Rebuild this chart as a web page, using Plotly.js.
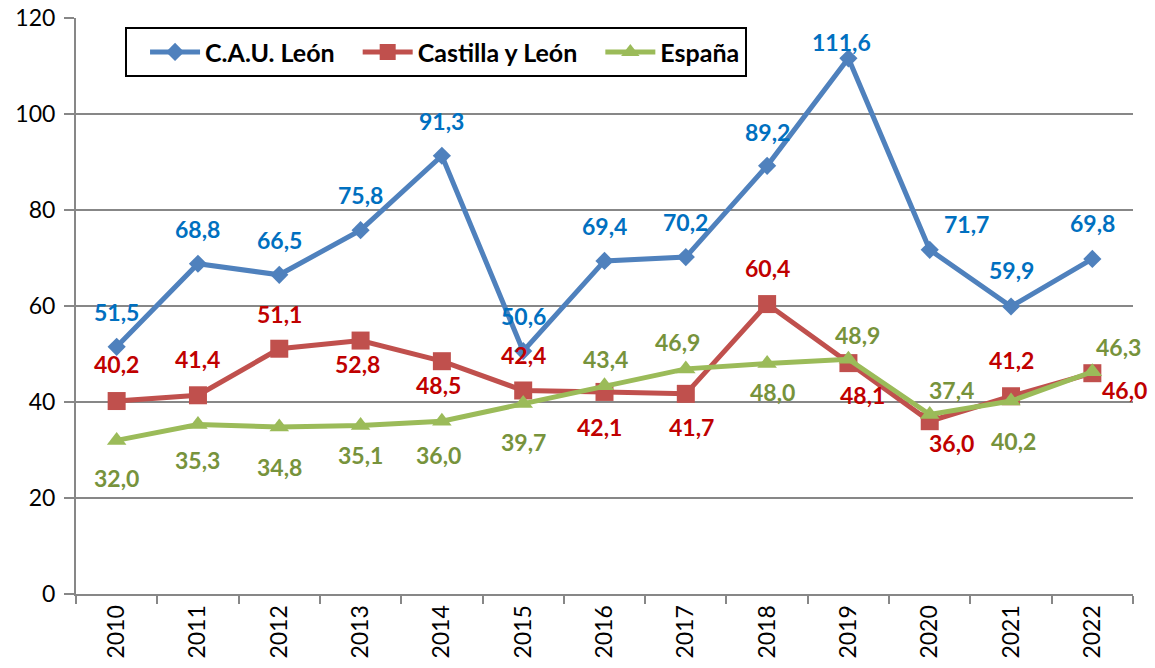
<!DOCTYPE html>
<html>
<head>
<meta charset="utf-8">
<script src="https://cdn.plot.ly/plotly-3.0.1.min.js"></script>
<style>html,body{margin:0;padding:0;background:#fff;}#chart{width:1155px;height:668px;}</style>
</head>
<body>
<div id="chart"></div>
<script>
const years = ['2010','2011','2012','2013','2014','2015','2016','2017','2018','2019','2020','2021','2022'];
const cauLeon = [51.5, 68.8, 66.5, 75.8, 91.3, 50.6, 69.4, 70.2, 89.2, 111.6, 71.7, 59.9, 69.8];
const castillaLeon = [40.2, 41.4, 51.1, 52.8, 48.5, 42.4, 42.1, 41.7, 60.4, 48.1, 36.0, 41.2, 46.0];
const espana = [32.0, 35.3, 34.8, 35.1, 36.0, 39.7, 43.4, 46.9, 48.0, 48.9, 37.4, 40.2, 46.3];
const yTicks = [0, 20, 40, 60, 80, 100, 120];

// label offsets (pixels) relative to each point
const cauDx = [0,0,0,0,0,0,0,0,0,-7,37,0,0];
const cauDy = [35,35,35,35,35,35,35,35,34,16,26,36,36];
const clDx = [0,0,0,-3,-3,0,-5,6,0,14,22,0,32];
const clDy = [37,36,35,-23,-24,35,-35,-33,36,-32,-22,36,-17];
const esDx = [0,0,0,0,-3,0,1,-8,5,9,22,2,26];
const esDy = [-38,-35,-40,-29,-34,-39,27,27,-28,24,24,-40,25];

const FONT = 'Lato, sans-serif';
const fmt = v => v.toFixed(1).replace('.', ',');

const traces = [
  {x: years, y: cauLeon, name: 'C.A.U. León', type: 'scatter', mode: 'lines+markers',
   line: {color: '#4F81BD', width: 5}, marker: {symbol: 'diamond', size: 14, color: '#4F81BD'}},
  {x: years, y: castillaLeon, name: 'Castilla y León', type: 'scatter', mode: 'lines+markers',
   line: {color: '#C0504D', width: 5}, marker: {symbol: 'square', size: 18, color: '#C0504D'}},
  {x: years, y: espana, name: 'España', type: 'scatter', mode: 'lines+markers',
   line: {color: '#9BBB59', width: 5}, marker: {symbol: 'triangle-up', size: 17, color: '#9BBB59'}}
];

const annotations = [];
function addLabels(vals, dx, dy, color) {
  for (let i = 0; i < vals.length; i++) {
    annotations.push({x: i, y: vals[i], xref: 'x', yref: 'y', text: fmt(vals[i]),
      showarrow: false, xshift: dx[i], yshift: dy[i],
      font: {family: FONT, size: 23, color: color, weight: 'bold'}});
  }
}
addLabels(cauLeon, cauDx, cauDy, '#0070C0');
addLabels(castillaLeon, clDx, clDy, '#C00000');
addLabels(espana, esDx, esDy, '#77933C');

const layout = {
  width: 1155, height: 668,
  margin: {l: 76, r: 22, t: 18, b: 74},
  paper_bgcolor: '#fff', plot_bgcolor: '#fff',
  font: {family: FONT, size: 22, color: '#000'},
  showlegend: true,
  legend: {orientation: 'h', x: 0.0464, y: 0.984, xanchor: 'left', yanchor: 'top',
    bordercolor: '#000', borderwidth: 2, bgcolor: '#fff', indentation: 18, itemwidth: 50,
    font: {family: FONT, size: 25, color: '#000', weight: 'bold'}},
  xaxis: {type: 'category', range: [-0.5, 12.5], tickson: 'boundaries', ticks: 'outside', ticklen: 8,
    tickcolor: '#878787', tickwidth: 2, showline: true, linecolor: '#878787', linewidth: 2,
    showgrid: false, tickangle: -90, tickfont: {family: FONT, size: 23, color: '#000'}, zeroline: false},
  yaxis: {range: [0, 120], tickvals: yTicks, ticks: 'outside', ticklen: 10, tickcolor: '#878787', tickwidth: 1.5,
    showline: true, linecolor: '#878787', linewidth: 2, showgrid: true, gridcolor: '#878787', gridwidth: 1.5,
    zeroline: false, ticklabelstandoff: 4, tickfont: {family: FONT, size: 23, color: '#000'}},
  annotations: annotations
};

Plotly.newPlot('chart', traces, layout, {displayModeBar: false, staticPlot: true});
</script>
</body>
</html>
